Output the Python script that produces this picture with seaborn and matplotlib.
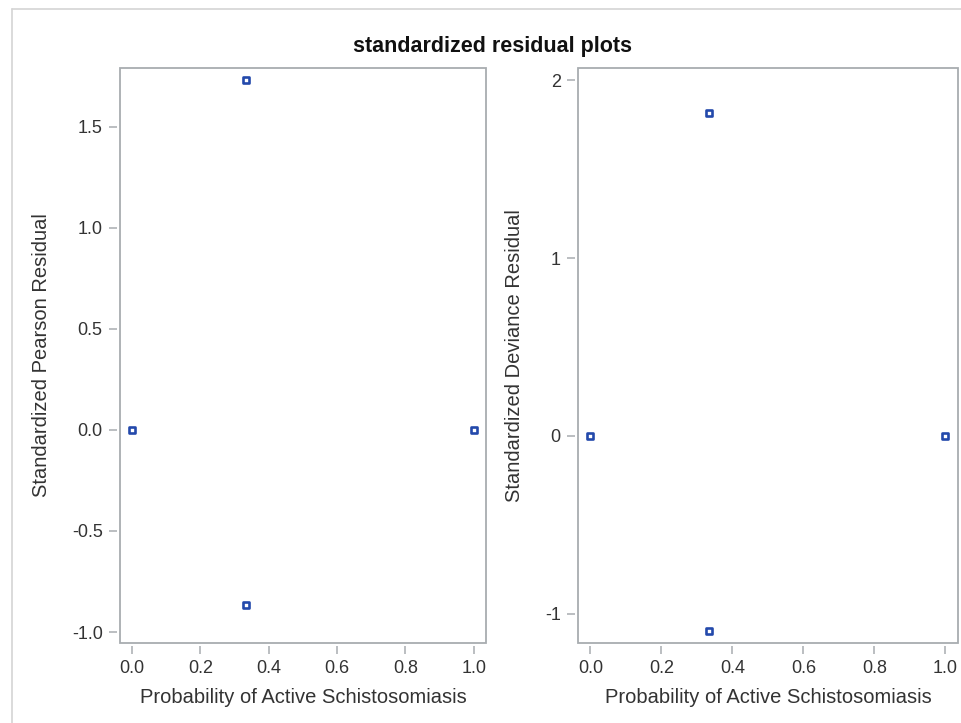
import matplotlib
matplotlib.use("Agg")
import matplotlib.pyplot as plt
from matplotlib.lines import Line2D
from matplotlib.patches import Rectangle
import pandas as pd
import seaborn as sns

# fitted probability and residuals per observation
prob = [0.0, 0.3333, 0.3333, 1.0]
pearson = [0.0, 1.732, -0.866, 0.0]
deviance = [0.0, 1.818, -1.097, 0.0]

pearson_ticks = [-1.0, -0.5, 0.0, 0.5, 1.0, 1.5]
deviance_ticks = [-1, 0, 1, 2]
x_ticks = [0.0, 0.2, 0.4, 0.6, 0.8, 1.0]

data = pd.DataFrame({"prob": prob, "pearson": pearson, "deviance": deviance})

sns.set_style("white")
plt.rcParams["font.family"] = ["Liberation Sans", "DejaVu Sans"]

frame_col = "#a8acb0"
text_col = "#333333"
mark_col = "#2349ab"

fig = plt.figure(figsize=(9.61, 7.23), dpi=100)
ax1 = fig.add_axes([0.1249, 0.1107, 0.3808, 0.7953])
ax2 = fig.add_axes([0.6015, 0.1107, 0.3954, 0.7953])


def style_panel(ax, ycol, ylabel, yticks, ylim, yfmt):
    sns.scatterplot(
        data=data, x="prob", y=ycol, ax=ax, marker="s", s=24,
        facecolor="white", edgecolor=mark_col, linewidth=1.9, zorder=3,
    )
    ax.set_xlim(-0.035, 1.036)
    ax.set_ylim(*ylim)
    ax.set_xticks(x_ticks)
    ax.set_xticklabels([f"{t:.1f}" for t in x_ticks])
    ax.set_yticks(yticks)
    ax.set_yticklabels([yfmt.format(t) for t in yticks])
    for side in ["top", "right", "left", "bottom"]:
        ax.spines[side].set_visible(False)
    ax.spines["bottom"].set_position(("outward", 2.5))
    ax.spines["left"].set_position(("outward", 2.5))
    ax.add_patch(Rectangle((0, 0), 1, 1, transform=ax.transAxes, fill=False,
                           edgecolor=frame_col, linewidth=1.3, clip_on=False,
                           zorder=4))
    ax.tick_params(direction="out", length=6, width=1.1, color=frame_col,
                   labelsize=13, labelcolor=text_col, pad=4,
                   bottom=True, left=True)
    ax.set_xlabel("Probability of Active Schistosomiasis", fontsize=14.5,
                  color=text_col, labelpad=8)
    ax.set_ylabel(ylabel, fontsize=14.5, color=text_col, labelpad=15)


style_panel(ax1, "pearson", "Standardized Pearson Residual",
            pearson_ticks, (-1.054, 1.79), "{:.1f}")
style_panel(ax2, "deviance", "Standardized Deviance Residual",
            deviance_ticks, (-1.165, 2.07), "{:d}")

fig.text(0.512, 0.936, "standardized residual plots", ha="center",
         va="center", fontsize=15.5, fontweight="bold", color="#111111")

# page border
page_col = "#d4d4d4"
fig.add_artist(Line2D([12 / 961, 1], [1 - 9 / 723, 1 - 9 / 723],
                      color=page_col, linewidth=1.2))
fig.add_artist(Line2D([12 / 961, 12 / 961], [0, 1 - 9 / 723],
                      color=page_col, linewidth=1.2))

fig.savefig("out.png", dpi=100)
